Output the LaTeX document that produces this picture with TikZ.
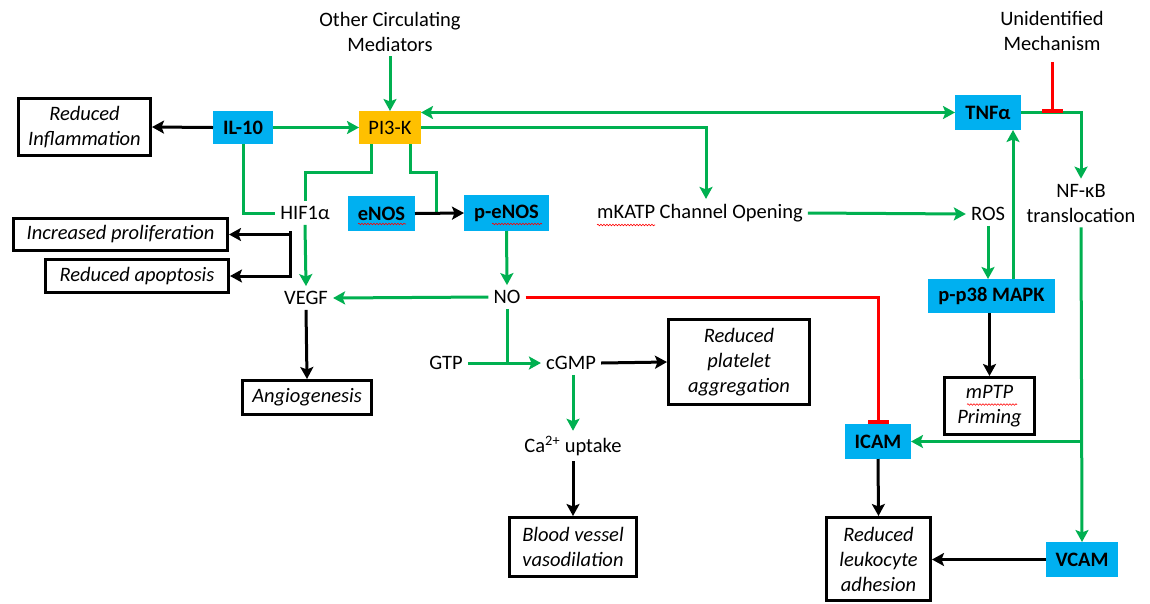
\documentclass[tikz,border=0pt]{standalone}
\usepackage{fontspec}
\setmainfont{Carlito}
\usetikzlibrary{arrows.meta,decorations.pathmorphing}
\definecolor{gr}{HTML}{00B050}
\definecolor{bl}{HTML}{00B0F0}
\definecolor{og}{HTML}{FFC000}
\definecolor{rd}{HTML}{FF0000}
\newcommand\myfs{\fontsize{20.5}{25}\selectfont}
\tikzset{
  tip/.tip={Stealth[length=12pt,width=13pt,inset=2.5pt]},
  gline/.style={draw=gr,line width=3pt},
  garrow/.style={gline,-tip},
  bline/.style={draw=black,line width=3pt},
  barrow/.style={bline,-tip},
  rinh/.style={draw=rd,line width=3pt,-{Bar[width=21pt,line width=4pt]}},
  bbox/.style={fill=bl,font=\myfs\bfseries,inner sep=0pt,outer sep=0pt,align=center},
  obox/.style={fill=og,font=\myfs,inner sep=0pt,outer sep=0pt,align=center},
  rbox/.style={draw=black,line width=3pt,font=\myfs\itshape,inner sep=0pt,align=center},
  txt/.style={font=\myfs,inner sep=5pt,align=center},
  wavy/.style={draw=rd,line width=0.6pt,decorate,decoration={snake,amplitude=0.8pt,segment length=3pt}}
}
\begin{document}
\begin{tikzpicture}[x=1pt,y=-1pt]
\useasboundingbox (0,0) rectangle (1150,603);
% plain text nodes
\node[txt] (other) at (390,31.5) {Other Circulating\\Mediators};
\node[txt] (unid) at (1052,31) {Unidentified\\Mechanism};
\node[txt] (nfkb) at (1081,203) {NF-κB\\translocation};
\node[txt] (hif) at (305,213) {HIF1α};
\node[txt] (mkatp) at (700,213) {mKATP Channel Opening};
\node[txt] (ros) at (988,214) {ROS};
\node[txt] (vegf) at (306,298) {VEGF};
\node[txt] (no) at (507,297) {NO};
\node[txt] (gtp) at (446,363) {GTP};
\node[txt] (cgmp) at (571,363) {cGMP};
\node[txt] (ca) at (573,446) {Ca\textsuperscript{2+} uptake};
% coloured boxes
\node[bbox,minimum width=60pt,minimum height=33pt] (il10) at (243,127.5) {IL-10};
\node[obox,minimum width=62pt,minimum height=33pt] (pi3k) at (390,127.5) {PI3-K};
\node[bbox,minimum width=66pt,minimum height=35pt] (tnf) at (988,112.5) {TNFα};
\node[bbox,minimum width=67pt,minimum height=35pt] (enos) at (381.5,213.5) {eNOS};
\node[bbox,minimum width=85pt,minimum height=36pt] (penos) at (506.5,213) {p-eNOS};
\node[bbox,minimum width=127pt,minimum height=34pt] (pp38) at (991.5,296) {p-p38 MAPK};
\node[bbox,minimum width=66pt,minimum height=35pt] (icam) at (878,441.5) {ICAM};
\node[bbox,minimum width=72pt,minimum height=35pt] (vcam) at (1082,559.5) {VCAM};
% outcome boxes
\node[rbox,minimum width=132pt,minimum height=57pt] (redinf) at (84.5,127) {Reduced\\Inflammation};
\node[rbox,minimum width=214pt,minimum height=32pt] (prolif) at (120.5,234.5) {Increased proliferation};
\node[rbox,minimum width=183pt,minimum height=33pt] (apop) at (137,276) {Reduced apoptosis};
\node[rbox,minimum width=129pt,minimum height=34pt] (angio) at (307,397.5) {Angiogenesis};
\node[rbox,minimum width=141pt,minimum height=85pt] (plat) at (739,362) {Reduced\\platelet\\aggregation};
\node[rbox,minimum width=127pt,minimum height=59pt] (blood) at (573,547) {Blood vessel\\vasodilation};
\node[rbox,minimum width=90pt,minimum height=57pt] (mptp) at (989.5,406) {mPTP\\Priming};
\node[rbox,minimum width=104pt,minimum height=83pt] (leuk) at (878.5,559) {Reduced\\leukocyte\\adhesion};
% spell-check underlines
\draw[wavy] (358,224) -- (406,224);
\draw[wavy] (492,224) -- (542,224);
\draw[wavy] (597,225) -- (655,225);
\draw[wavy] (967,404.5) -- (1017,404.5);
% connectors
\draw[garrow] (other.south) -- (pi3k.north);
\draw[garrow] (il10.east) -- (pi3k.west);
\draw[barrow] (il10.west) -- (redinf.east);
\draw[gline] (il10.south) |- (hif.west);
\draw[gline] ([xshift=-19pt]pi3k.south) -- ++(0,28) -| (hif.north);
\coordinate (j1) at (436,213.5);
\draw[gline] ([xshift=20pt]pi3k.south) -- ++(0,28) -| (j1);
\draw[barrow] (enos.east) -- (penos.west);
\draw[gline,tip-tip] (pi3k.east |- tnf.west) -- (tnf.west);
\draw[garrow] (pi3k.east) -| ([xshift=6pt]mkatp.north);
\draw[garrow] (mkatp.east) -- (ros.west);
\draw[garrow] (ros.south) -- (ros.south |- pp38.north);
\draw[garrow] ([xshift=21.5pt]pp38.north) -- ([xshift=21.5pt]pp38.north |- tnf.south);
\draw[garrow] (tnf.east) -| (nfkb.north);
\draw[rinh,shorten <=6pt] (unid.south) -- (unid.south |- tnf.east);
\draw[garrow] (nfkb.south) -- (vcam.north);
\draw[garrow] (nfkb.south |- icam.east) -- (icam.east);
\draw[barrow] (vcam.west) -- (leuk.east |- vcam.west);
\draw[barrow] (icam.south) -- (leuk.north);
\draw[barrow] (pp38.south -| mptp.north) -- (mptp.north);
\draw[garrow] (penos.south) -- (no.north);
\draw[garrow] (no.west) -- (vegf.east);
\draw[rinh] (no.east) -| (icam.north);
\draw[gline] (no.south) -- (no.south |- gtp.east);
\draw[garrow] (gtp.east) -- (cgmp.west);
\draw[barrow] (cgmp.east) -- (plat.west);
\draw[garrow] (ca.north |- cgmp.south) -- (ca.north);
\draw[barrow] (ca.south) -- (blood.north);
\draw[barrow] (vegf.south) -- (angio.north);
\draw[garrow] (hif.south) -- (vegf.north);
\coordinate (hx) at (290,231);
\draw[barrow] (hx) |- (apop.east);
\draw[barrow] (hx |- prolif.east) -- (prolif.east);
\end{tikzpicture}
\end{document}
